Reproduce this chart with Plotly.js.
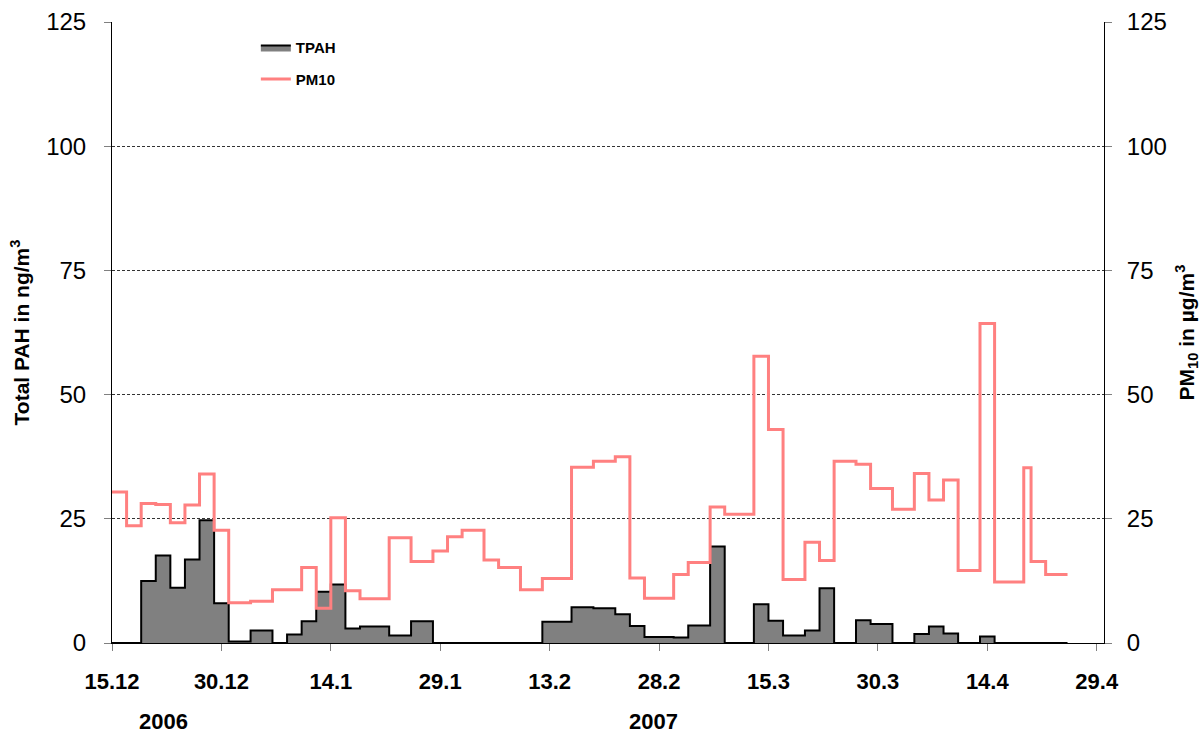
<!DOCTYPE html>
<html>
<head>
<meta charset="utf-8">
<script src="https://cdn.plot.ly/plotly-3.0.1.min.js"></script>
<style>html,body{margin:0;padding:0;background:#fff;}#chart{width:1201px;height:736px;}</style>
</head>
<body>
<div id="chart"></div>
<script>
// Sample period start dates (last entry = end of final period)
const sampleDates = [
  '2006-12-15','2006-12-17','2006-12-19','2006-12-21','2006-12-23','2006-12-25','2006-12-27','2006-12-29','2006-12-31',
  '2007-01-03','2007-01-06','2007-01-08','2007-01-10','2007-01-12','2007-01-14','2007-01-16','2007-01-18','2007-01-22',
  '2007-01-25','2007-01-28','2007-01-30','2007-02-01','2007-02-04','2007-02-06','2007-02-09','2007-02-12','2007-02-16',
  '2007-02-19','2007-02-22','2007-02-24','2007-02-26','2007-03-02','2007-03-04','2007-03-07','2007-03-09','2007-03-13',
  '2007-03-15','2007-03-17','2007-03-20','2007-03-22','2007-03-24','2007-03-27','2007-03-29','2007-04-01','2007-04-04',
  '2007-04-06','2007-04-08','2007-04-10','2007-04-13','2007-04-15','2007-04-19','2007-04-20','2007-04-22','2007-04-25'
];
// PM10 in µg/m³ per period
const pm10 = [
  30.4,23.6,28.1,27.9,24.2,27.8,34.0,22.7,8.1,
  8.4,10.7,10.7,15.2,7.0,25.2,10.5,8.9,21.2,
  16.4,18.5,21.4,22.7,16.7,15.2,10.7,13.0,35.4,
  36.6,37.5,13.1,9.0,13.8,16.2,27.4,25.9,57.7,
  43.0,12.8,20.3,16.6,36.6,36.0,31.1,26.9,34.1,
  28.8,32.8,14.6,64.3,12.3,35.3,16.4,13.8
];
// Total PAH in ng/m³ per period
const tpah = [
  0,0,12.5,17.6,11.1,16.8,24.7,8.0,0.3,
  2.5,0,1.7,4.4,10.3,11.8,2.9,3.3,1.5,
  4.4,0,0,0,0,0,0,4.3,7.2,
  7.0,5.8,3.4,1.2,1.1,3.5,19.4,0,7.8,
  4.5,1.5,2.5,11.0,0,4.6,3.8,0,1.8,
  3.3,1.9,0,1.3,0,0,0,0
];
const xTickStart = '2006-12-15';
const xRange = ['2006-12-15','2007-04-30'];
const yearLabels = ['2006','2007'];

const pmY = pm10.concat([pm10[pm10.length-1]]);
const tpY = tpah.concat([tpah[tpah.length-1]]);

const FONT = 'Liberation Sans, Arial, sans-serif';

const traces = [
  {
    x: sampleDates, y: tpY, name: 'TPAH', type: 'scatter', mode: 'lines',
    line: {shape: 'hv', color: '#000000', width: 2},
    fill: 'tozeroy', fillcolor: '#808080',
    legendgroup: 'a', yaxis: 'y'
  },
  {
    x: sampleDates, y: pmY, name: 'PM10', type: 'scatter', mode: 'lines',
    line: {shape: 'hv', color: 'rgb(255,128,128)', width: 3},
    legendgroup: 'b', yaxis: 'y2'
  }
];

const layout = {
  width: 1201, height: 736,
  margin: {l: 112, r: 97, t: 22, b: 93},
  paper_bgcolor: '#ffffff', plot_bgcolor: '#ffffff',
  font: {family: FONT, color: '#000'},
  showlegend: true,
  legend: {
    x: 0.145, y: 0.985, xanchor: 'left', yanchor: 'top',
    font: {family: FONT, size: 15, color: '#000', weight: 'bold'},
    bgcolor: 'rgba(0,0,0,0)', tracegroupgap: 9, itemwidth: 30
  },
  xaxis: {
    type: 'date', range: xRange,
    tick0: xTickStart, dtick: 15 * 86400000, tickformat: '%-d.%-m',
    ticks: 'outside', ticklen: 7, tickcolor: '#808080', tickwidth: 1,
    ticklabelstandoff: 12,
    tickfont: {family: FONT, size: 22, color: '#000', weight: 'bold'},
    showgrid: false, zeroline: false,
    showline: true, linecolor: '#000', linewidth: 1
  },
  yaxis: {
    range: [0, 125], dtick: 25, tick0: 0,
    ticks: 'outside', ticklen: 7, tickcolor: '#808080',
    tickfont: {family: FONT, size: 24, color: '#000'},
    ticklabelstandoff: 13,
    showgrid: true, gridcolor: '#000', griddash: '3px,2px', gridwidth: 0.8,
    zeroline: false, showline: true, linecolor: '#000', linewidth: 1,
    title: {text: 'Total PAH in ng/m<sup>3</sup>', font: {family: FONT, size: 21, color: '#000', weight: 'bold'}, standoff: 10}
  },
  yaxis2: {
    overlaying: 'y', side: 'right', range: [0, 125], dtick: 25, tick0: 0,
    ticks: 'outside', ticklen: 7, tickcolor: '#808080',
    tickfont: {family: FONT, size: 24, color: '#000'},
    ticklabelstandoff: 10,
    showgrid: false, zeroline: false, showline: true, linecolor: '#000', linewidth: 1,
    title: {text: 'PM<sub>10</sub> in µg/m<sup>3</sup>', font: {family: FONT, size: 21, color: '#000', weight: 'bold'}, standoff: 14}
  },
  annotations: [
    {text: yearLabels[0], xref: 'paper', yref: 'paper', x: 0.052, y: -0.127, showarrow: false,
     font: {family: FONT, size: 22, color: '#000', weight: 'bold'}, xanchor: 'center', yanchor: 'middle'},
    {text: yearLabels[1], xref: 'paper', yref: 'paper', x: 0.5455, y: -0.127, showarrow: false,
     font: {family: FONT, size: 22, color: '#000', weight: 'bold'}, xanchor: 'center', yanchor: 'middle'}
  ]
};

Plotly.newPlot('chart', traces, layout, {displayModeBar: false, staticPlot: true});
</script>
</body>
</html>
